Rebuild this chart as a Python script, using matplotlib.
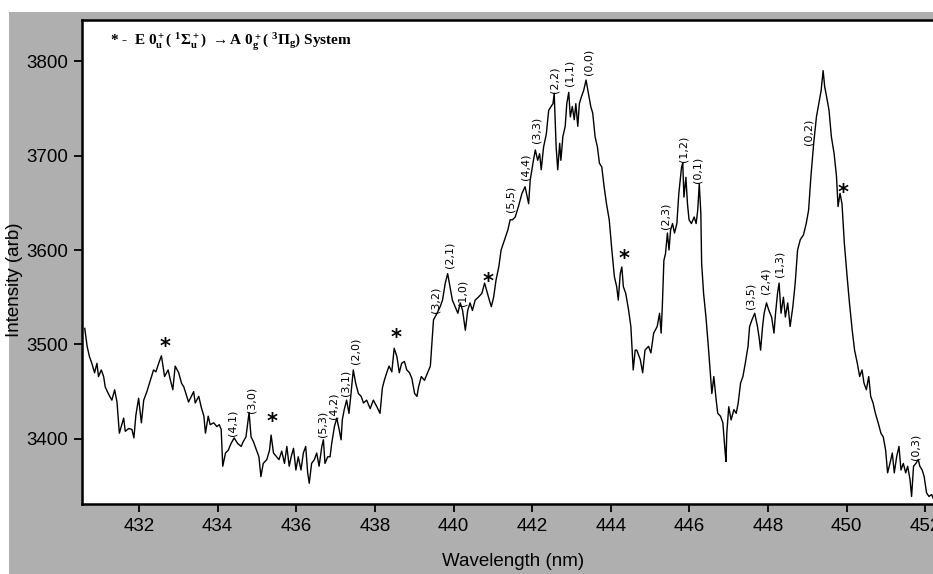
import matplotlib
matplotlib.use("Agg")
import matplotlib.pyplot as plt
from matplotlib.patches import Rectangle

wavelength = [
    430.62, 430.68, 430.74, 430.80, 430.87, 430.93, 430.97, 431.04, 431.10, 431.14,
    431.23, 431.31, 431.38, 431.44, 431.50, 431.61, 431.65, 431.74, 431.82, 431.87,
    431.92, 431.99, 432.06, 432.12, 432.20, 432.29, 432.37, 432.43, 432.50, 432.57,
    432.65, 432.74, 432.80, 432.86, 432.92, 433.01, 433.08, 433.14, 433.20, 433.26,
    433.39, 433.43, 433.52, 433.58, 433.65, 433.69, 433.76, 433.81, 433.90, 433.98,
    434.04, 434.09, 434.13, 434.20, 434.27, 434.34, 434.42, 434.51, 434.60, 434.65,
    434.72, 434.80, 434.85, 434.91, 434.99, 435.05, 435.10, 435.16, 435.25, 435.32,
    435.36, 435.42, 435.50, 435.56, 435.63, 435.70, 435.76, 435.82, 435.87, 435.93,
    435.99, 436.05, 436.12, 436.18, 436.24, 436.29, 436.33, 436.39, 436.46, 436.52,
    436.58, 436.65, 436.69, 436.73, 436.80, 436.86, 436.90, 436.97, 437.03, 437.09,
    437.14, 437.17, 437.22, 437.28, 437.34, 437.39, 437.45, 437.51, 437.58, 437.65,
    437.71, 437.79, 437.88, 437.96, 438.05, 438.13, 438.19, 438.24, 438.30, 438.36,
    438.43, 438.49, 438.56, 438.62, 438.68, 438.75, 438.81, 438.88, 438.94, 439.01,
    439.07, 439.11, 439.18, 439.26, 439.32, 439.41, 439.49, 439.58, 439.66, 439.72,
    439.79, 439.85, 439.91, 439.97, 440.04, 440.11, 440.17, 440.23, 440.30, 440.36,
    440.42, 440.48, 440.55, 440.63, 440.72, 440.79, 440.85, 440.91, 440.96, 441.02,
    441.08, 441.15, 441.21, 441.30, 441.38, 441.44, 441.50, 441.57, 441.65, 441.74,
    441.82, 441.91, 441.95, 442.02, 442.08, 442.14, 442.19, 442.23, 442.29, 442.36,
    442.42, 442.48, 442.53, 442.56, 442.61, 442.65, 442.70, 442.73, 442.78, 442.84,
    442.88, 442.93, 442.97, 443.02, 443.07, 443.11, 443.16, 443.20, 443.25, 443.31,
    443.37, 443.43, 443.49, 443.54, 443.60, 443.66, 443.71, 443.77, 443.83, 443.89,
    443.96, 444.02, 444.09, 444.15, 444.19, 444.24, 444.28, 444.32, 444.38, 444.45,
    444.51, 444.57, 444.62, 444.66, 444.75, 444.81, 444.87, 444.96, 445.02, 445.09,
    445.18, 445.24, 445.28, 445.31, 445.35, 445.39, 445.44, 445.48, 445.52, 445.57,
    445.62, 445.68, 445.73, 445.80, 445.83, 445.86, 445.91, 445.95, 445.99, 446.05,
    446.12, 446.17, 446.21, 446.25, 446.29, 446.31, 446.36, 446.42, 446.48, 446.53,
    446.57, 446.62, 446.68, 446.72, 446.79, 446.85, 446.91, 446.93, 446.95, 447.00,
    447.06, 447.13, 447.19, 447.24, 447.30, 447.36, 447.42, 447.49, 447.53, 447.59,
    447.66, 447.73, 447.77, 447.81, 447.86, 447.90, 447.96, 448.02, 448.09, 448.15,
    448.19, 448.24, 448.28, 448.33, 448.39, 448.44, 448.50, 448.56, 448.63, 448.69,
    448.75, 448.82, 448.90, 448.97, 449.03, 449.09, 449.16, 449.23, 449.29, 449.35,
    449.40, 449.44, 449.49, 449.55, 449.61, 449.68, 449.74, 449.78, 449.83, 449.88,
    449.94, 450.01, 450.07, 450.14, 450.20, 450.27, 450.33, 450.39, 450.44, 450.50,
    450.56, 450.61, 450.67, 450.73, 450.80, 450.87, 450.93, 450.99, 451.04, 451.10,
    451.16, 451.21, 451.27, 451.33, 451.38, 451.44, 451.50, 451.55, 451.61, 451.65,
    451.70, 451.76, 451.82, 451.86, 451.92, 451.97, 452.03, 452.09, 452.16, 452.22,
    452.28,
]

intensity = [
    3517, 3498, 3487, 3480, 3470, 3480, 3466, 3473, 3466, 3455,
    3447, 3441, 3452, 3439, 3406, 3422, 3408, 3411, 3410, 3401,
    3425, 3443, 3417, 3441, 3450, 3462, 3473, 3471, 3480, 3488,
    3466, 3473, 3462, 3452, 3477, 3470, 3459, 3455, 3447, 3439,
    3450, 3438, 3445, 3434, 3424, 3406, 3424, 3415, 3417, 3413,
    3415, 3410, 3371, 3385, 3388, 3395, 3401, 3395, 3392, 3397,
    3402, 3428, 3402, 3397, 3388, 3381, 3360, 3374, 3378, 3388,
    3404, 3385, 3381, 3378, 3387, 3374, 3392, 3371, 3381, 3390,
    3367, 3381, 3367, 3385, 3392, 3364, 3353, 3374, 3378, 3385,
    3371, 3392, 3399, 3374, 3381, 3381, 3395, 3413, 3422, 3410,
    3399, 3420, 3431, 3441, 3427, 3447, 3473, 3459, 3448, 3445,
    3438, 3441, 3432, 3441, 3434, 3427, 3454, 3462, 3470, 3477,
    3471, 3496, 3487, 3470, 3480, 3482, 3473, 3470, 3464, 3448,
    3445, 3455, 3466, 3462, 3468, 3477, 3526, 3533, 3540, 3547,
    3565, 3575, 3561, 3547, 3540, 3533, 3544, 3536, 3515, 3536,
    3544, 3536, 3547, 3550, 3554, 3565, 3556, 3547, 3540, 3550,
    3568, 3582, 3600, 3611, 3621, 3632, 3632, 3635, 3646, 3660,
    3667, 3649, 3674, 3692, 3706, 3695, 3702, 3685, 3709, 3723,
    3748, 3752, 3755, 3766, 3709, 3685, 3713, 3695, 3720, 3731,
    3755, 3767, 3741, 3752, 3738, 3755, 3731, 3755, 3762, 3769,
    3780, 3766, 3752, 3745, 3720, 3709, 3692, 3688, 3667, 3649,
    3632, 3603, 3572, 3561, 3547, 3575, 3582, 3561, 3554, 3537,
    3519, 3473, 3494, 3494, 3484, 3470, 3494, 3498, 3491, 3512,
    3519, 3533, 3512, 3540, 3589, 3596, 3618, 3600, 3621, 3628,
    3618, 3628, 3660, 3688, 3692, 3656, 3677, 3649, 3632, 3628,
    3635, 3628, 3642, 3670, 3639, 3586, 3554, 3529, 3498, 3470,
    3448, 3466, 3441, 3427, 3424, 3417, 3385, 3376, 3406, 3434,
    3420, 3431, 3427, 3438, 3459, 3466, 3480, 3498, 3519, 3526,
    3533, 3519, 3508, 3494, 3519, 3533, 3544, 3536, 3529, 3512,
    3533, 3554, 3565, 3533, 3550, 3529, 3544, 3519, 3540, 3565,
    3600, 3611, 3616, 3628, 3642, 3678, 3713, 3741, 3755, 3769,
    3790, 3773, 3762, 3748, 3720, 3702, 3678, 3646, 3660, 3649,
    3607, 3572, 3544, 3515, 3494, 3480, 3466, 3473, 3459, 3452,
    3466, 3445, 3438, 3427, 3417, 3406, 3402, 3388, 3364, 3374,
    3385, 3364, 3381, 3392, 3367, 3374, 3364, 3371, 3357, 3339,
    3371, 3374, 3378, 3371, 3367, 3360, 3343, 3339, 3341, 3335,
    3349,
]

# band assignments: label, wavelength, label centre intensity
band_labels = ["(4,1)", "(3,0)", "(5,3)", "(4,2)", "(3,1)", "(2,0)", "(3,2)", "(2,1)",
               "(1,0)", "(5,5)", "(4,4)", "(3,3)", "(2,2)", "(1,1)", "(0,0)", "(2,3)",
               "(1,2)", "(0,1)", "(3,5)", "(2,4)", "(1,3)", "(0,2)", "(0,3)"]
band_wl = [434.39, 434.87, 436.66, 436.94, 437.24, 437.50, 439.55, 439.89,
           440.24, 441.44, 441.82, 442.12, 442.56, 442.95, 443.43, 445.40,
           445.86, 446.21, 447.56, 447.93, 448.29, 449.03, 451.75]
band_int = [3417, 3441, 3416, 3435, 3459, 3493, 3547, 3595,
            3555, 3654, 3688, 3727, 3780, 3788, 3799, 3636,
            3707, 3685, 3551, 3567, 3585, 3725, 3392]

star_wl = [432.66, 435.38, 438.54, 440.89, 444.33, 449.90]
star_int = [3497, 3418, 3507, 3566, 3591, 3660]

x_ticks = [432, 434, 436, 438, 440, 442, 444, 446, 448, 450, 452]
y_ticks = [3400, 3500, 3600, 3700, 3800]

plt.rcParams['mathtext.fontset'] = 'custom'
plt.rcParams['mathtext.rm'] = 'Liberation Serif:bold'
plt.rcParams['mathtext.it'] = 'Liberation Serif:bold'
plt.rcParams['mathtext.bf'] = 'Liberation Serif:bold'

W, H = 933, 574
fig = plt.figure(figsize=(W / 100, H / 100), dpi=100, facecolor='white')
fig.patches.append(Rectangle((9 / W, 0), 1 - 9 / W, (H - 12) / H,
                             transform=fig.transFigure, facecolor='#afafaf',
                             edgecolor='none', zorder=-10))

ax = fig.add_axes([82 / W, (H - 504) / H, (945 - 82) / W, (504 - 20) / H])
ax.set_zorder(5)
ax.set_facecolor('white')
ax.plot(wavelength, intensity, color='black', lw=1.0)
ax.set_xlim(430.55, 452.5)
ax.set_ylim(3331, 3843.6)

tick_font = ['Liberation Sans', 'DejaVu Sans']
ax.set_xticks(x_ticks)
ax.set_yticks(y_ticks)
ax.set_xticklabels([str(t) for t in x_ticks], fontsize=13.5, family=tick_font)
ax.set_yticklabels([str(t) for t in y_ticks], fontsize=13.5, family=tick_font)
ax.tick_params(direction='out', length=6, width=1.3, colors='black', pad=4)
for s in ['left', 'top', 'bottom']:
    ax.spines[s].set_linewidth(1.8)
ax.spines['right'].set_visible(False)

ax.set_xlabel('Wavelength (nm)', fontsize=13.5, family=tick_font)
ax.set_ylabel('Intensity (arb)', fontsize=13.5, family=tick_font)
ax.xaxis.set_label_coords(0.5, -0.101)
ax.yaxis.set_label_coords(-0.068, 0.463)

for lab, x, y in zip(band_labels, band_wl, band_int):
    ax.text(x, y, lab, rotation=90, fontsize=8, ha='center', va='center',
            family='DejaVu Sans')
for x, y in zip(star_wl, star_int):
    ax.text(x, y, '*', fontsize=15, fontweight='bold', ha='center', va='center',
            family='DejaVu Sans')

ax.text(0.032, 0.953,
        r'* -  E 0$_u^+$( $^1\Sigma_u^+$) $\rightarrow$A 0$_g^+$( $^3\Pi_g$) System',
        transform=ax.transAxes, fontsize=11, fontweight='bold',
        family='Liberation Serif', ha='left', va='center')

fig.savefig('out.png', dpi=100, facecolor='white')
